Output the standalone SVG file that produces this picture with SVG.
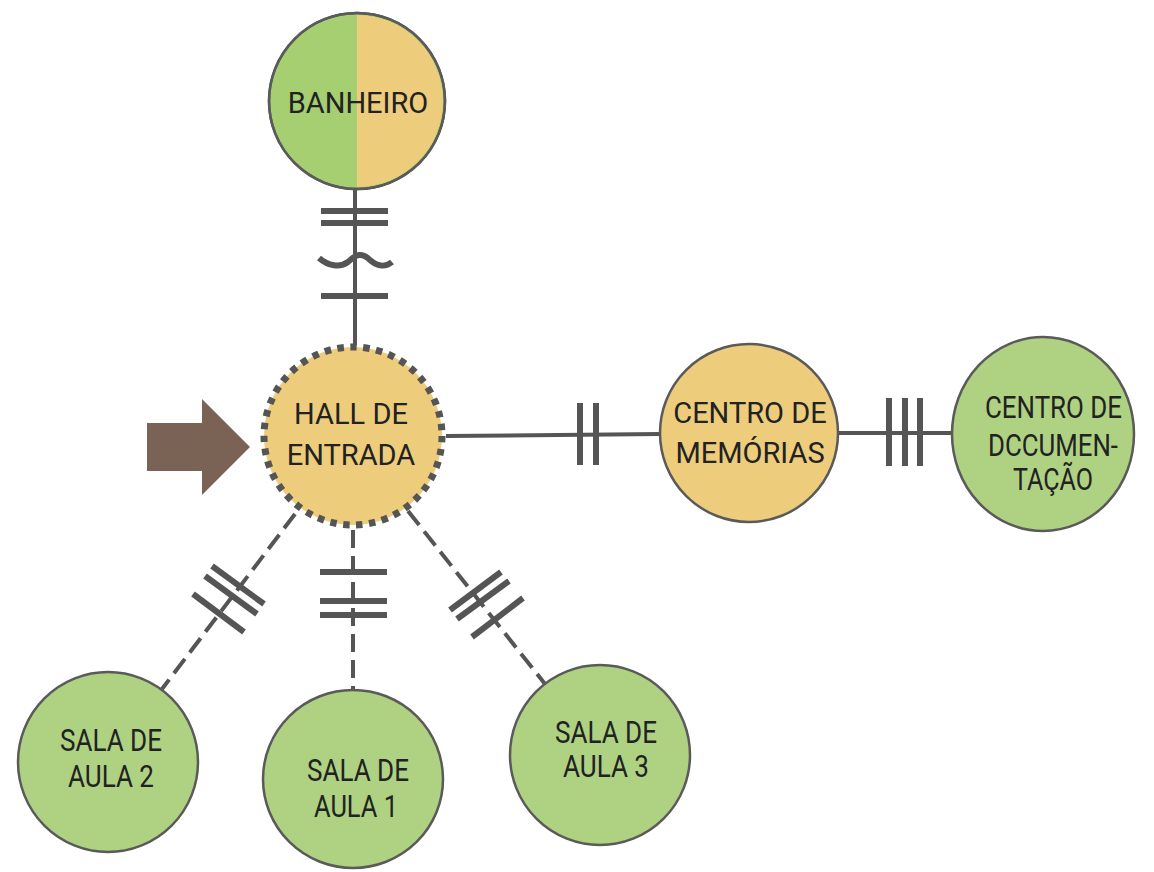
<svg xmlns="http://www.w3.org/2000/svg" width="1154" height="872" viewBox="0 0 1154 872">
<style>
.green{fill:#aed282;stroke:#5a5a5a;stroke-width:2.5}
.tan{fill:#edcd7c;stroke:#5a5a5a;stroke-width:2.5}
.lbl{font-family:Roboto,"Liberation Sans",sans-serif;font-size:29px;fill:#222;text-anchor:middle}
.cnd{font-family:Roboto,"Liberation Sans",sans-serif;font-size:31px;fill:#222}
.ln{stroke:#555;stroke-width:4;fill:none}
.dash{stroke:#555;stroke-width:4;fill:none;stroke-dasharray:18 8}
.tk{stroke:#555;stroke-width:6;fill:none}
</style>
<rect width="1154" height="872" fill="#fff"/>
<g id="connectors">
<line class="ln" x1="355" y1="187" x2="355" y2="345"/>
<line class="tk" x1="321" y1="211" x2="388" y2="211"/>
<line class="tk" x1="321" y1="223" x2="388" y2="223"/>
<path class="tk" stroke-width="7" d="M319,258 C328,266 340,268 348,262 C356,254 362,252 370,260 C378,267 386,267 392,262"/>
<line class="tk" x1="321" y1="296" x2="388" y2="296"/>
<line class="ln" x1="446" y1="436" x2="660" y2="434"/>
<line class="tk" x1="580" y1="403" x2="580" y2="465"/>
<line class="tk" x1="596" y1="403" x2="596" y2="465"/>
<line class="ln" x1="838" y1="433" x2="952" y2="433"/>
<line class="tk" x1="889" y1="398" x2="889" y2="466"/>
<line class="tk" x1="905" y1="398" x2="905" y2="466"/>
<line class="tk" x1="920" y1="398" x2="920" y2="466"/>
<line class="dash" x1="295" y1="514" x2="162" y2="689"/>
<line class="tk" x1="212" y1="566" x2="264" y2="604"/>
<line class="tk" x1="205" y1="576" x2="257" y2="614"/>
<line class="tk" x1="193" y1="594" x2="244" y2="632"/>
<line class="dash" x1="353" y1="530" x2="353" y2="690"/>
<line class="tk" x1="320" y1="572" x2="387" y2="572"/>
<line class="tk" x1="320" y1="601" x2="387" y2="601"/>
<line class="tk" x1="320" y1="615" x2="387" y2="615"/>
<line class="dash" x1="408" y1="511" x2="545" y2="684"/>
<line class="tk" x1="450" y1="610" x2="501" y2="572"/>
<line class="tk" x1="457" y1="619" x2="509" y2="581"/>
<line class="tk" x1="472" y1="637" x2="523" y2="598"/>
</g>
<g id="arrow">
<polygon points="147,423 202,423 202,399 250,447 202,495 202,471 147,471" fill="#7a6354"/>
</g>
<g id="banheiro">
<circle cx="357" cy="101" r="88" fill="#a6cf72" stroke="#5a5a5a" stroke-width="2.5"/>
<path d="M357,15 A86,86 0 0 1 357,187 Z" fill="#edcd7c"/>
<circle cx="357" cy="101" r="88" fill="none" stroke="#5a5a5a" stroke-width="2.5"/>
<text class="lbl" x="358" y="113" font-size="30">BANHEIRO</text>
</g>
<g id="hall">
<circle cx="353" cy="436" r="89" fill="#edcd7c" stroke="#555" stroke-width="7" stroke-dasharray="6.5 6.5"/>
<text class="lbl" x="351" y="424" font-size="31">HALL DE</text>
<text class="lbl" x="351" y="465" font-size="31">ENTRADA</text>
</g>
<g id="memorias">
<circle class="tan" cx="749" cy="433" r="89"/>
<text class="lbl" x="750" y="423">CENTRO DE</text>
<text class="lbl" x="750" y="463">MEMÓRIAS</text>
</g>
<g id="documentacao">
<ellipse class="green" cx="1043" cy="434" rx="91" ry="97"/>
<text class="cnd" x="985" y="418" font-size="29" textLength="137" lengthAdjust="spacingAndGlyphs">CENTRO DE</text>
<text class="cnd" x="988" y="456" font-size="29" textLength="130" lengthAdjust="spacingAndGlyphs">DCCUMEN-</text>
<text class="cnd" x="1013" y="490" font-size="29" textLength="80" lengthAdjust="spacingAndGlyphs">TAÇÃO</text>
</g>
<g id="sala2">
<ellipse class="green" cx="108" cy="762" rx="90" ry="90"/>
<text class="cnd" x="60" y="751" textLength="102" lengthAdjust="spacingAndGlyphs">SALA DE</text>
<text class="cnd" x="68" y="787" textLength="86" lengthAdjust="spacingAndGlyphs">AULA 2</text>
</g>
<g id="sala1">
<ellipse class="green" cx="353" cy="779" rx="90" ry="89"/>
<text class="cnd" x="307" y="781" textLength="102" lengthAdjust="spacingAndGlyphs">SALA DE</text>
<text class="cnd" x="314" y="817" textLength="84" lengthAdjust="spacingAndGlyphs">AULA 1</text>
</g>
<g id="sala3">
<ellipse class="green" cx="600" cy="755" rx="90" ry="90"/>
<text class="cnd" x="555" y="743" textLength="102" lengthAdjust="spacingAndGlyphs">SALA DE</text>
<text class="cnd" x="563" y="777" textLength="86" lengthAdjust="spacingAndGlyphs">AULA 3</text>
</g>
</svg>
